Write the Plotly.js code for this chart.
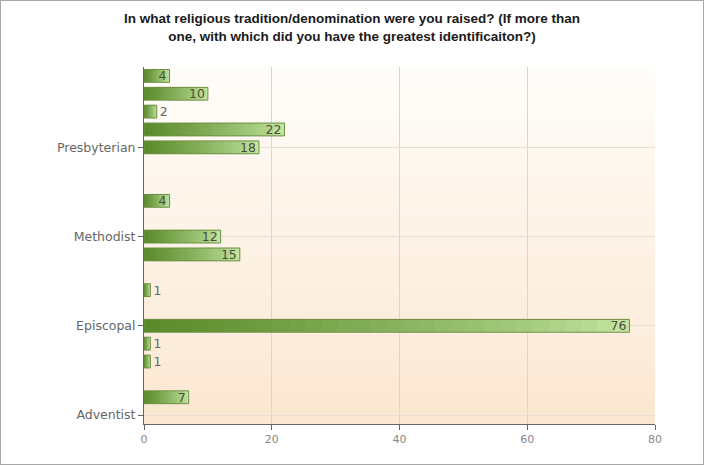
<!DOCTYPE html>
<html>
<head>
<meta charset="utf-8">
<script src="https://cdn.plot.ly/plotly-3.0.1.min.js"></script>
<style>
html,body{margin:0;padding:0;background:#fff;}
#chart{width:704px;height:465px;box-sizing:border-box;border:1px solid #a8a8a8;}
</style>
</head>
<body>
<div id="chart"></div>
<script>
// Rows listed top to bottom; only every fifth label is printed in the original.
const categoryLabels = ["", "", "", "", "Presbyterian", "", "", "", "", "Methodist", "", "", "", "", "Episcopal", "", "", "", "", "Adventist"];
const counts = [4, 10, 2, 22, 18, null, null, 4, null, 12, 15, null, 1, null, 76, 1, 1, null, 7, null];
const xTicks = [0, 20, 40, 60, 80];

const rows = categoryLabels.map((_, i) => i);
const tickVals = rows.filter(i => categoryLabels[i] !== "");
const tickText = tickVals.map(i => categoryLabels[i]);

function mix(a, b, t) {
  const pa = [parseInt(a.slice(1,3),16), parseInt(a.slice(3,5),16), parseInt(a.slice(5,7),16)];
  const pb = [parseInt(b.slice(1,3),16), parseInt(b.slice(3,5),16), parseInt(b.slice(5,7),16)];
  return 'rgb(' + pa.map((v, k) => Math.round(v + (pb[k] - v) * t)).join(',') + ')';
}

const FONT = 'DejaVu Sans, Verdana, sans-serif';
const traces = [];
const steps = 30;
const light = '#c2e5a0', dark = '#5a8a2a';
for (let k = 0; k < steps; k++) {
  const f = 1 - k / steps;
  const t = Math.pow(k / (steps - 1), 0.8);
  traces.push({
    type: 'bar', orientation: 'h',
    y: rows,
    x: counts.map(v => v == null ? null : v * f),
    width: 0.72,
    marker: {color: mix(light, dark, t), line: {width: 0}},
    hoverinfo: 'skip', showlegend: false
  });
}
traces.push({
  type: 'bar', orientation: 'h',
  y: rows, x: counts,
  width: 0.72,
  text: counts.map(v => v == null ? '' : String(v)),
  textposition: counts.map(v => (v != null && v >= 3) ? 'inside' : 'outside'),
  textangle: 0,
  constraintext: 'none',
  insidetextanchor: 'end',
  insidetextfont: {family: FONT, size: 12.5, color: '#4d4d3d'},
  outsidetextfont: {family: FONT, size: 12.5, color: '#666'},
  cliponaxis: false,
  marker: {color: 'rgba(0,0,0,0)', line: {color: '#6f8f45', width: 1}},
  showlegend: false
});

const shapes = [];
const bands = 40;
for (let i = 0; i < bands; i++) {
  shapes.push({
    type: 'rect', xref: 'paper', yref: 'paper', layer: 'below',
    x0: 0, x1: 1, y0: 1 - (i + 1) / bands, y1: 1 - i / bands + 0.001,
    fillcolor: mix('#fffdf9', '#fbe7d2', i / (bands - 1)), line: {width: 0}
  });
}

const layout = {
  width: 702, height: 463,
  margin: {l: 143, r: 48, t: 66, b: 40},
  paper_bgcolor: '#ffffff', plot_bgcolor: '#ffffff',
  barmode: 'overlay', bargap: 0,
  title: {
    text: 'In what religious tradition/denomination were you raised? (If more than<br>one, with which did you have the greatest identificaiton?)',
    font: {family: 'Liberation Sans, Arial, sans-serif', size: 13.5, color: '#1a1a1a', weight: 'bold'},
    x: 0.5, xanchor: 'center', yref: 'container', y: 0.952, yanchor: 'middle'
  },
  xaxis: {
    range: [0, 80], tickvals: xTicks, ticks: 'outside', ticklen: 5, tickcolor: '#666',
    showline: true, linecolor: '#666', linewidth: 1,
    showgrid: true, gridcolor: '#ddd5cc', zeroline: false,
    tickfont: {family: FONT, size: 11, color: '#888'}
  },
  yaxis: {
    range: [19.5, -0.5], tickvals: tickVals, ticktext: tickText,
    ticks: 'outside', ticklen: 5, tickcolor: '#666',
    showline: true, linecolor: '#666', linewidth: 1,
    showgrid: true, gridcolor: '#e6ddd4', zeroline: false,
    tickfont: {family: FONT, size: 12.5, color: '#666'}
  },
  shapes: shapes
};

Plotly.newPlot('chart', traces, layout, {displayModeBar: false, staticPlot: true});
</script>
</body>
</html>
